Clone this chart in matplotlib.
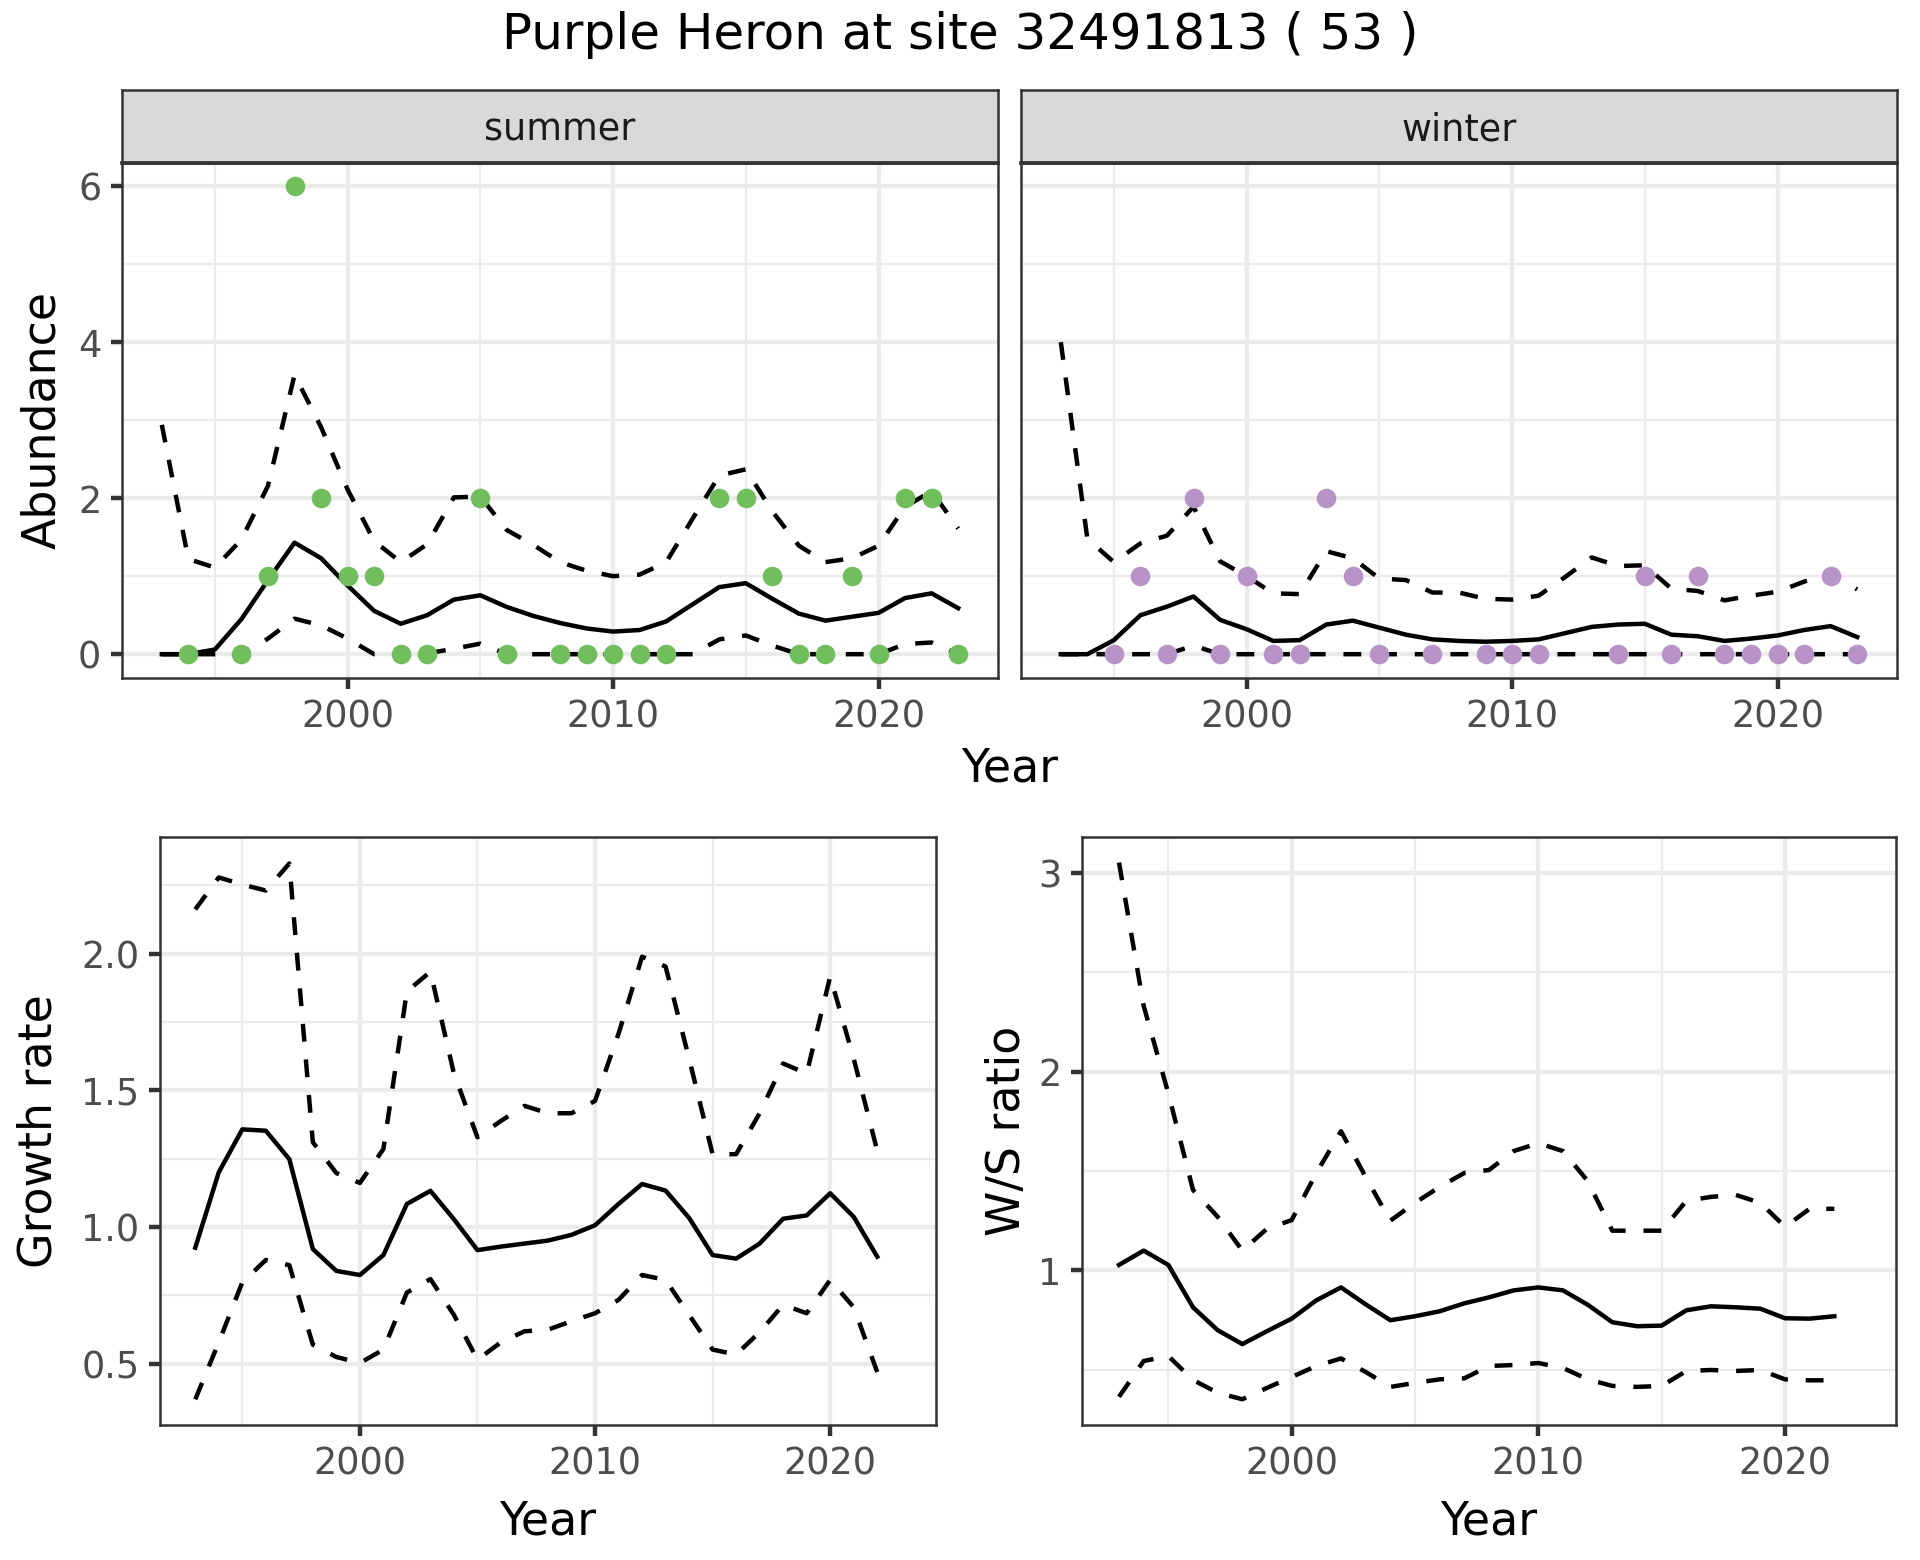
import numpy as np
import matplotlib
matplotlib.use("Agg")
import matplotlib.pyplot as plt
from matplotlib.ticker import FixedLocator, FormatStrFormatter

# =========================================================
# DATA
# =========================================================
years = np.arange(1993, 2024)          # abundance panels
years_gr = np.arange(1993, 2023)       # growth rate / ratio panels

# summer counts (NaN = no survey)
summer_obs = [np.nan, 0, np.nan, 0, 1, 6, 2, 1, 1, 0, 0, np.nan, 2, 0, np.nan, 0,
              0, 0, 0, 0, np.nan, 2, 2, 1, 0, 0, 1, 0, 2, 2, 0]
summer_mean = [0.0, 0.0, 0.06, 0.45, 0.95, 1.43, 1.23, 0.88, 0.555, 0.39, 0.50, 0.70,
               0.755, 0.605, 0.49, 0.40, 0.33, 0.29, 0.31, 0.42, 0.64, 0.86, 0.91,
               0.71, 0.52, 0.43, 0.48, 0.53, 0.72, 0.78, 0.59]
summer_upper = [2.94, 1.22, 1.11, 1.47, 2.16, 3.58, 2.91, 2.11, 1.45, 1.18, 1.41, 2.01,
                2.02, 1.59, 1.40, 1.18, 1.07, 1.00, 1.02, 1.18, 1.74, 2.29, 2.37,
                1.83, 1.39, 1.18, 1.23, 1.39, 1.89, 2.09, 1.61]
summer_lower = [0.0, 0.0, 0.0, 0.0, 0.20, 0.455, 0.37, 0.20, 0.0, 0.0, 0.01, 0.07,
                0.135, 0.0, 0.0, 0.0, 0.0, 0.0, 0.0, 0.0, 0.0, 0.19, 0.24,
                0.11, 0.0, 0.0, 0.0, 0.0, 0.13, 0.15, 0.0]

# winter counts
winter_obs = [np.nan, np.nan, 0, 1, 0, 2, 0, 1, 0, 0, 2, 1, 0, np.nan, 0, np.nan,
              0, 0, 0, np.nan, np.nan, 0, 1, 0, 1, 0, 0, 0, 0, 1, 0]
winter_mean = [0.0, 0.0, 0.18, 0.50, 0.61, 0.74, 0.44, 0.32, 0.17, 0.18, 0.38, 0.43,
               0.34, 0.25, 0.19, 0.17, 0.16, 0.17, 0.19, 0.27, 0.35, 0.38, 0.39,
               0.25, 0.23, 0.17, 0.20, 0.24, 0.31, 0.36, 0.22]
winter_upper = [4.00, 1.48, 1.18, 1.42, 1.52, 1.89, 1.19, 1.00, 0.78, 0.77, 1.32, 1.23,
                0.97, 0.95, 0.79, 0.79, 0.71, 0.70, 0.75, 0.99, 1.24, 1.13, 1.14,
                0.84, 0.81, 0.69, 0.75, 0.80, 0.93, 1.03, 0.83]
winter_lower = [0.0, 0.0, 0.0, 0.0, 0.0, 0.11, 0.0, 0.0, 0.0, 0.0, 0.0, 0.0,
                0.0, 0.0, 0.0, 0.0, 0.0, 0.0, 0.0, 0.0, 0.0, 0.0, 0.0,
                0.0, 0.0, 0.0, 0.0, 0.0, 0.0, 0.0, 0.0]

# growth rate
growth_mean = [0.924, 1.20, 1.357, 1.352, 1.248, 0.919, 0.839, 0.824, 0.897, 1.084,
               1.132, 1.028, 0.915, 0.928, 0.939, 0.950, 0.971, 1.006, 1.084, 1.157,
               1.133, 1.033, 0.897, 0.884, 0.939, 1.030, 1.042, 1.123, 1.037, 0.891]
growth_upper = [2.162, 2.279, 2.253, 2.231, 2.330, 1.310, 1.197, 1.161, 1.285, 1.862,
                1.934, 1.561, 1.328, 1.388, 1.443, 1.416, 1.416, 1.461, 1.707, 1.989,
                1.953, 1.616, 1.266, 1.266, 1.416, 1.598, 1.561, 1.916, 1.616, 1.279]
growth_lower = [0.369, 0.578, 0.797, 0.879, 0.860, 0.569, 0.524, 0.502, 0.551, 0.760,
                0.809, 0.678, 0.514, 0.578, 0.618, 0.624, 0.655, 0.684, 0.733, 0.824,
                0.806, 0.678, 0.551, 0.533, 0.615, 0.715, 0.684, 0.806, 0.706, 0.469]

# winter / summer ratio
ratio_mean = [1.028, 1.100, 1.028, 0.815, 0.700, 0.630, 0.695, 0.758, 0.850, 0.915,
              0.830, 0.750, 0.770, 0.795, 0.835, 0.865, 0.900, 0.915, 0.900, 0.828,
              0.740, 0.720, 0.723, 0.800, 0.820, 0.815, 0.808, 0.760, 0.758, 0.770]
ratio_upper = [3.050, 2.330, 1.890, 1.405, 1.270, 1.100, 1.210, 1.253, 1.490, 1.700,
               1.470, 1.250, 1.340, 1.420, 1.490, 1.505, 1.600, 1.640, 1.600, 1.450,
               1.200, 1.200, 1.200, 1.350, 1.370, 1.380, 1.340, 1.220, 1.310, 1.310]
ratio_lower = [0.365, 0.545, 0.570, 0.450, 0.385, 0.353, 0.410, 0.465, 0.520, 0.558,
               0.490, 0.415, 0.435, 0.453, 0.458, 0.520, 0.525, 0.535, 0.510, 0.453,
               0.420, 0.415, 0.420, 0.495, 0.500, 0.495, 0.500, 0.453, 0.448, 0.448]

TITLE = "Purple Heron at site 32491813 ( 53 )"

# =========================================================
# STYLE (ggplot2 theme_bw look-alike)
# =========================================================
W, H, DPI = 1920, 1560, 300
GREEN = "#70BE5C"
PURPLE = "#B893C8"
LW = 1.07            # geom_line width in pt
DASH = (0, (4, 4))

plt.rcParams["font.family"] = ["DejaVu Sans"]

fig = plt.figure(figsize=(W / DPI, H / DPI), dpi=DPI)
fig.patch.set_facecolor("white")


def add_axes_px(x0, y0, x1, y1):
    # pixel box (top-left origin) -> figure fraction
    return fig.add_axes([x0 / W, 1 - y1 / H, (x1 - x0) / W, (y1 - y0) / H])


def style_axes(ax, ymaj, ymin, ylim, ylabels=True, fmt=None):
    ax.set_xlim(1991.5, 2024.5)
    ax.set_ylim(*ylim)
    ax.xaxis.set_major_locator(FixedLocator([2000, 2010, 2020]))
    ax.xaxis.set_minor_locator(FixedLocator([1995, 2005, 2015]))
    ax.yaxis.set_major_locator(FixedLocator(ymaj))
    ax.yaxis.set_minor_locator(FixedLocator(ymin))
    if fmt:
        ax.yaxis.set_major_formatter(FormatStrFormatter(fmt))
    ax.set_axisbelow(True)
    ax.grid(which="major", color="#EBEBEB", lw=1.07)
    ax.grid(which="minor", color="#EBEBEB", lw=0.53)
    for s in ax.spines.values():
        s.set_color("#333333")
        s.set_linewidth(0.6)
    ax.tick_params(which="major", length=2.75, width=1.07, color="#333333",
                   labelcolor="#4D4D4D", labelsize=8.8, pad=2.2)
    ax.tick_params(which="minor", length=0)
    if not ylabels:
        ax.tick_params(axis="y", which="major", length=0, labelleft=False)


def add_strip(x0, x1, y0, y1, label):
    sax = add_axes_px(x0, y0, x1, y1)
    sax.set_facecolor("#D9D9D9")
    sax.set_xticks([]); sax.set_yticks([])
    for s in sax.spines.values():
        s.set_color("#333333")
        s.set_linewidth(0.6)
    sax.spines["bottom"].set_linewidth(0.9)
    sax.text(0.5, 0.45, label, ha="center", va="center", fontsize=8.8,
             color="#1A1A1A", transform=sax.transAxes)


def draw_band(ax, x, mean, lower, upper):
    ax.plot(x, upper, color="black", lw=LW, linestyle=DASH, zorder=3)
    ax.plot(x, lower, color="black", lw=LW, linestyle=DASH, zorder=3)
    ax.plot(x, mean, color="black", lw=LW, zorder=3)


# =========================================================
# TOP ROW: ABUNDANCE FACETS
# =========================================================
panels = [(122, 998, "summer", summer_obs, summer_mean, summer_lower, summer_upper, GREEN),
          (1021, 1897, "winter", winter_obs, winter_mean, winter_lower, winter_upper, PURPLE)]

for i, (x0, x1, name, obs, mean, low, up, col) in enumerate(panels):
    ax = add_axes_px(x0, 162.7, x1, 677.6)
    style_axes(ax, [0, 2, 4, 6], [1, 3, 5], (-0.3, 6.3), ylabels=(i == 0))
    draw_band(ax, years, mean, low, up)
    ax.plot(years, obs, linestyle="none", marker="o", markersize=4.2,
            markerfacecolor=col, markeredgecolor=col, markeredgewidth=0.5, zorder=4)
    add_strip(x0, x1, 90, 162.7, name)

fig.text(43 / W, 1 - 420 / H, "Abundance", rotation=90, ha="center", va="center", fontsize=11)
fig.text(1009.5 / W, 1 - 769 / H, "Year", ha="center", va="center", fontsize=11)

# =========================================================
# BOTTOM ROW: GROWTH RATE AND W/S RATIO
# =========================================================
ax_gr = add_axes_px(160, 836.7, 936, 1425.3)
style_axes(ax_gr, [0.5, 1.0, 1.5, 2.0], [0.75, 1.25, 1.75, 2.25], (0.274, 2.428), fmt="%.1f")
draw_band(ax_gr, years_gr, growth_mean, growth_lower, growth_upper)

ax_ws = add_axes_px(1082, 836.7, 1896, 1425.3)
style_axes(ax_ws, [1, 2, 3], [0.5, 1.5, 2.5], (0.222, 3.18))
draw_band(ax_ws, years_gr, ratio_mean, ratio_lower, ratio_upper)

fig.text(39 / W, 1 - 1131 / H, "Growth rate", rotation=90, ha="center", va="center", fontsize=11)
fig.text(1007 / W, 1 - 1131 / H, "W/S ratio", rotation=90, ha="center", va="center", fontsize=11)
fig.text(548 / W, 1 - 1522 / H, "Year", ha="center", va="center", fontsize=11)
fig.text(1489 / W, 1 - 1522 / H, "Year", ha="center", va="center", fontsize=11)

fig.text(0.5, 1 - 35 / H, TITLE, ha="center", va="center", fontsize=12)

fig.savefig("out.png", dpi=DPI)
